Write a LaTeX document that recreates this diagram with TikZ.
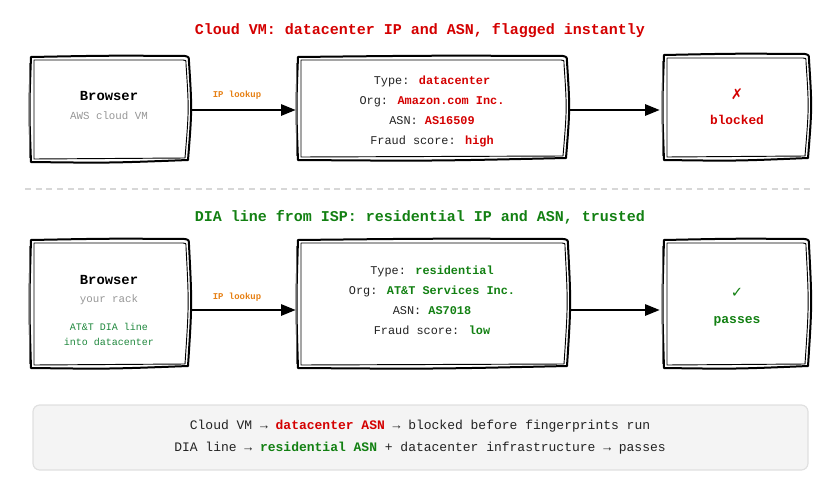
\documentclass[tikz,border=0pt]{standalone}
\usepackage{fontspec}
\setmainfont{Liberation Mono}
\newfontfamily\symfont{DejaVu Sans}
\usetikzlibrary{calc,arrows.meta}
\definecolor{cred}{RGB}{212,0,0}
\definecolor{cgreen}{RGB}{18,128,18}
\definecolor{corange}{RGB}{230,128,20}
\definecolor{cgray}{RGB}{150,150,150}
\definecolor{ctext}{RGB}{34,34,34}
\definecolor{cteal}{RGB}{30,135,60}
\definecolor{notefill}{RGB}{244,244,244}
\definecolor{noteline}{RGB}{224,224,224}
\definecolor{dashcol}{RGB}{215,215,215}
\newcommand\skbox[1]{%
  \draw[line width=1.5pt, line join=round]
    ($(#1.north west)+(1,0)$) .. controls ($(#1.north)+(0,-1.5)$) .. ($(#1.north east)+(-3,-1)$)
    .. controls ($(#1.north east)+(1,0)$) .. ($(#1.north east)+(1,5)$)
    .. controls ($(#1.east)+(4,0)$) .. ($(#1.south east)+(0,-2)$)
    .. controls ($(#1.south)+(0,1)$) .. ($(#1.south west)+(1,0)$)
    .. controls ($(#1.west)+(-1,0)$) .. cycle;
  \draw[line width=0.7pt, line join=round]
    ($(#1.north west)+(4,3)$) -- ($(#1.north east)+(-5,3)$)
    .. controls ($(#1.north east)+(-2,3)$) .. ($(#1.north east)+(-2,7)$)
    .. controls ($(#1.east)+(1,0)$) .. ($(#1.south east)+(-3,-4)$)
    -- ($(#1.south west)+(4,-3)$) -- cycle;
  \draw[line width=0.5pt, black!60]
    ($(#1.north west)+(-1,6)$) -- ($(#1.south west)+(-1,-4)$);
}
\tikzset{
  box/.style={inner sep=0pt, outer sep=0pt},
  arr/.style={line width=1.5pt, -{Triangle[length=11pt,width=8.5pt]}, shorten >=1pt},
  ttl/.style={font=\fontsize{11.25}{13}\selectfont\bfseries},
  lbl/.style={font=\fontsize{6.7}{8}\selectfont\bfseries, text=corange},
  info/.style={font=\fontsize{8.9}{15}\selectfont, text=ctext, align=center},
  hdr/.style={font=\fontsize{10.4}{12}\selectfont\bfseries, text=black},
  sub/.style={font=\fontsize{8.1}{10}\selectfont, text=cgray},
}
\begin{document}
\begin{tikzpicture}[x=0.75pt,y=-0.75pt]
\useasboundingbox (0,0) rectangle (838,496);
% titles
\node[ttl, text=cred] (t1) at (420,31) {Cloud VM: datacenter IP and ASN, flagged instantly};
\node[ttl, text=cgreen] (t2) at (420,217) {DIA line from ISP: residential IP and ASN, trusted};
% separator
\coordinate (s1) at (25,189);
\coordinate (s2) at (813,189);
\draw[dashcol, line width=1.5pt, dash pattern=on 4.5pt off 3.5pt] (s1) -- (s2);
% top row boxes
\node[box, minimum width={158*0.75pt}, minimum height={105*0.75pt}] (A1) at (109,109.5) {};
\node[box, minimum width={269*0.75pt}, minimum height={103*0.75pt}] (A2) at (431.5,108.5) {};
\node[box, minimum width={145*0.75pt}, minimum height={105*0.75pt}] (A3) at (735.5,107.5) {};
\skbox{A1}\skbox{A2}\skbox{A3}
\node[hdr] (a1h) at (109,96) {Browser};
\node[sub] (a1s) at (109,116) {AWS cloud VM};
\node[info] (a2t) at (432,111) {Type: \textcolor{cred}{\bfseries datacenter}\\Org: \textcolor{cred}{\bfseries Amazon.com Inc.}\\ASN: \textcolor{cred}{\bfseries AS16509}\\Fraud score: \textcolor{cred}{\bfseries high}};
\node[text=cred, font=\symfont\fontsize{11}{12}\selectfont] (a3x) at (737,94) {✗};
\node[text=cred, font=\fontsize{9.6}{11}\selectfont\bfseries] (a3t) at (737,120) {blocked};
\draw[arr] ($(A1.east)+(2,0.5)$) coordinate (a1e) -- ($(A2.west)+(0,1.5)$) coordinate (a2w);
\node[lbl] (l1) at (237,95) {IP lookup};
\draw[arr] ($(A2.east)+(3,1.5)$) coordinate (a2e) -- ($(A3.west)+(-2,2.5)$) coordinate (a3w);
% bottom row boxes
\node[box, minimum width={158*0.75pt}, minimum height={128*0.75pt}] (B1) at (109,304) {};
\node[box, minimum width={270*0.75pt}, minimum height={128*0.75pt}] (B2) at (432,304) {};
\node[box, minimum width={145*0.75pt}, minimum height={128*0.75pt}] (B3) at (735.5,304) {};
\skbox{B1}\skbox{B2}\skbox{B3}
\node[hdr] (b1h) at (109,280) {Browser};
\node[sub] (b1s) at (109,300) {your rack};
\node[font=\fontsize{7.5}{11.3}\selectfont, text=cteal, align=center] (b1d) at (109,334.5) {AT\&T DIA line\\into datacenter};
\node[info] (b2t) at (432,300) {Type: \textcolor{cgreen}{\bfseries residential}\\Org: \textcolor{cgreen}{\bfseries AT\&T Services Inc.}\\ASN: \textcolor{cgreen}{\bfseries AS7018}\\Fraud score: \textcolor{cgreen}{\bfseries low}};
\node[text=cgreen, font=\symfont\fontsize{11}{12}\selectfont\bfseries] (b3x) at (737,293) {✓};
\node[text=cgreen, font=\fontsize{9.75}{11}\selectfont\bfseries] (b3t) at (737,321) {passes};
\draw[arr] ($(B1.east)+(2,6)$) coordinate (b1e) -- ($(B2.west)+(0,6)$) coordinate (b2w);
\node[lbl] (l2) at (237,297) {IP lookup};
\draw[arr] ($(B2.east)+(3,6)$) coordinate (b2e) -- ($(B3.west)+(-2,6)$) coordinate (b3w);
% note
\node[draw=noteline, fill=notefill, line width=0.9pt, rounded corners=5pt, minimum width={775*0.75pt}, minimum height={65*0.75pt}] (N) at (420.5,437.5) {};
\node[font=\fontsize{9.75}{16.5}\selectfont, text=ctext, align=center] (nt) at (420,437) {Cloud VM → \textcolor{cred}{\bfseries datacenter ASN} → blocked before fingerprints run\\DIA line → \textcolor{cgreen}{\bfseries residential ASN} + datacenter infrastructure → passes};
\end{tikzpicture}
\end{document}
